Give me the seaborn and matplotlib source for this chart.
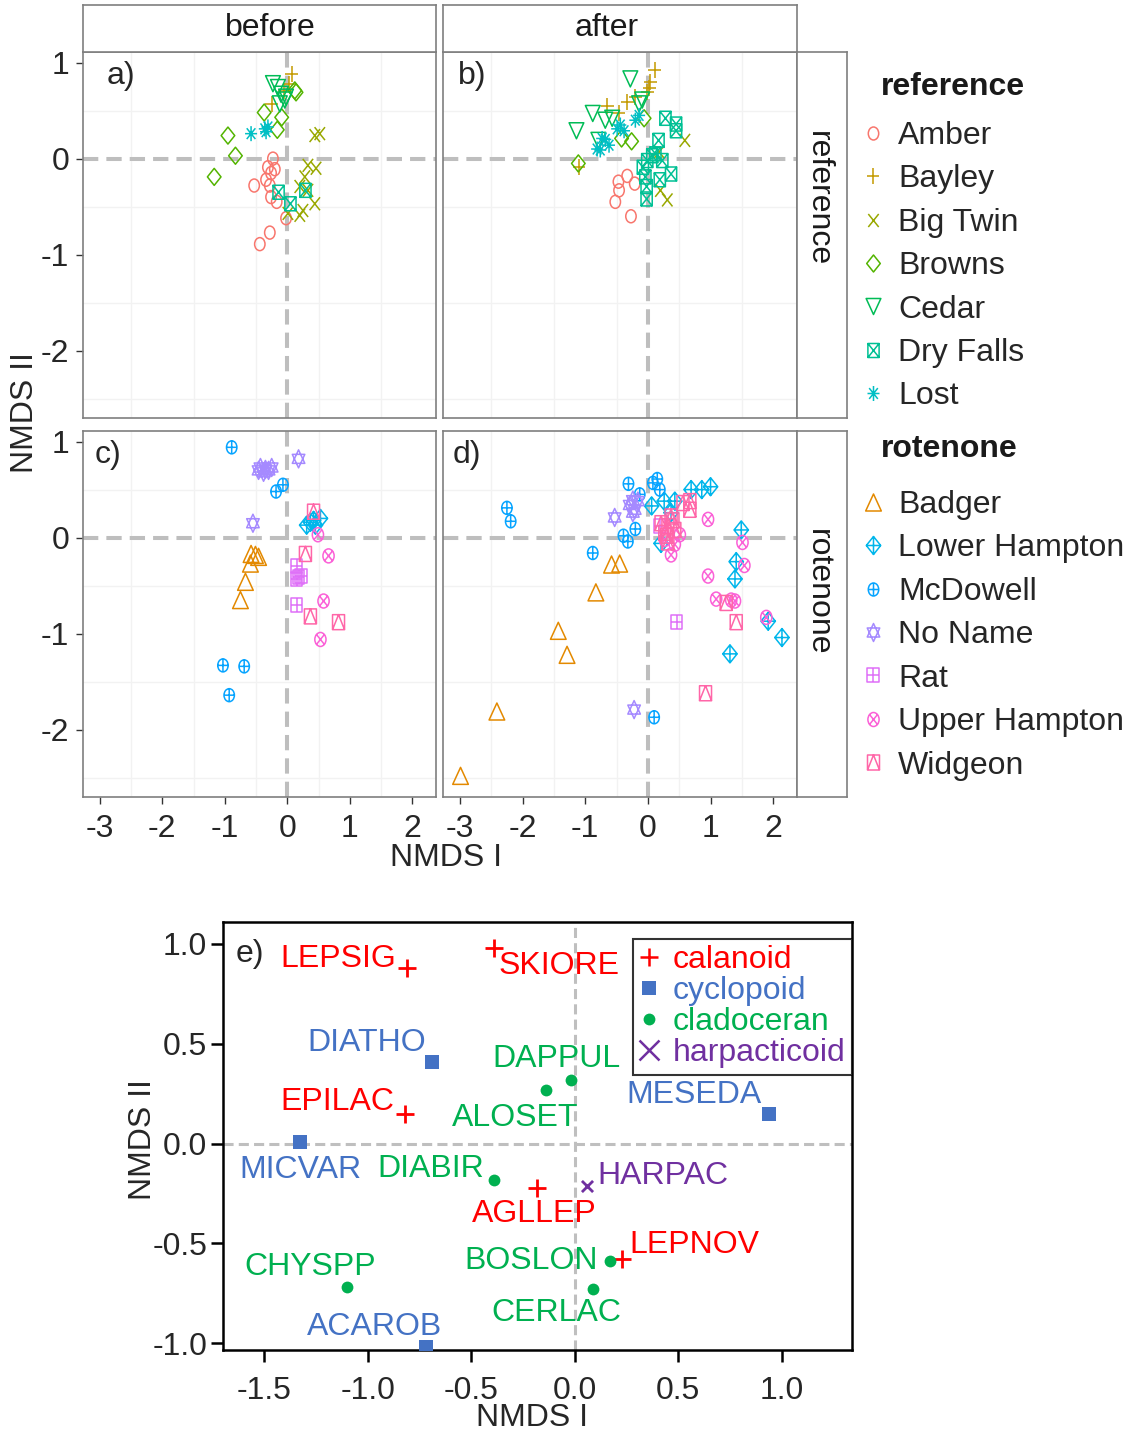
import numpy as np
import pandas as pd
import seaborn as sns
import matplotlib.pyplot as plt
from matplotlib.path import Path
from matplotlib.markers import MarkerStyle
from matplotlib.lines import Line2D
from matplotlib.transforms import Affine2D

# ---------------- data: NMDS site scores per lake ----------------
ref_lakes = ["Amber", "Bayley", "Big Twin", "Browns", "Cedar", "Dry Falls", "Lost"]
rot_lakes = ["Badger", "Lower Hampton", "McDowell", "No Name", "Rat", "Upper Hampton", "Widgeon"]

ref_before = {
    "Amber": [(-0.23, 0.00), (-0.31, -0.09), (-0.20, -0.11), (-0.26, -0.15), (-0.34, -0.22), (-0.53, -0.28),
              (-0.28, -0.28), (-0.26, -0.40), (-0.17, -0.45), (-0.02, -0.62), (-0.28, -0.77), (-0.44, -0.89)],
    "Bayley": [(0.07, 0.88), (0.03, 0.78), (-0.05, 0.70), (-0.25, 0.57)],
    "Big Twin": [(0.44, 0.24), (0.52, 0.26), (0.33, -0.07), (0.46, -0.10), (0.28, -0.19), (0.20, -0.29),
                 (0.33, -0.33), (0.44, -0.47), (0.25, -0.54), (0.20, -0.59), (0.01, -0.57)],
    "Browns": [(-0.95, 0.24), (-0.83, 0.03), (-1.17, -0.19), (-0.37, 0.48), (-0.09, 0.43), (-0.16, 0.30),
               (0.12, 0.71), (0.14, 0.69)],
    "Cedar": [(-0.23, 0.78), (-0.15, 0.74), (-0.10, 0.67), (-0.04, 0.61), (-0.12, 0.57), (-0.02, 0.64)],
    "Dry Falls": [(-0.14, -0.35), (0.29, -0.33), (0.05, -0.47)],
    "Lost": [(-0.58, 0.26), (-0.36, 0.31), (-0.31, 0.33), (-0.34, 0.28)],
}
ref_after = {
    "Amber": [(-0.33, -0.18), (-0.47, -0.24), (-0.46, -0.33), (-0.52, -0.45), (-0.21, -0.26), (-0.27, -0.60)],
    "Bayley": [(0.11, 0.92), (0.04, 0.80), (0.02, 0.74), (-0.01, 0.69), (-0.20, 0.64), (-0.33, 0.59),
               (-0.65, 0.55), (-0.46, 0.47), (-1.10, -0.09)],
    "Big Twin": [(0.59, 0.19), (0.31, -0.43), (0.20, -0.33), (0.18, 0.07)],
    "Browns": [(-1.11, -0.05), (-0.26, 0.18), (-0.42, 0.21), (-0.06, 0.42)],
    "Cedar": [(-0.28, 0.83), (-1.14, 0.29), (-0.88, 0.47), (-0.57, 0.42), (-0.68, 0.40), (-0.09, 0.61),
              (-0.14, 0.57), (-0.79, 0.19)],
    "Dry Falls": [(0.28, 0.42), (0.45, 0.36), (0.45, 0.29), (0.17, 0.19), (-0.01, -0.02), (0.07, 0.03),
                  (-0.08, -0.09), (-0.04, -0.19), (0.23, -0.02), (0.37, -0.16), (0.19, -0.22), (-0.02, -0.29),
                  (-0.02, -0.42), (0.12, 0.05)],
    "Lost": [(-0.81, 0.10), (-0.73, 0.21), (-0.62, 0.14), (-0.44, 0.35), (-0.38, 0.29), (-0.14, 0.45),
             (-0.20, 0.40), (-0.76, 0.09), (-0.68, 0.20), (-0.49, 0.31)],
}
rot_before = {
    "Badger": [(-0.58, -0.17), (-0.51, -0.18), (-0.46, -0.20), (-0.59, -0.27), (-0.67, -0.46), (-0.75, -0.65)],
    "Lower Hampton": [(0.31, 0.13), (0.42, 0.18), (0.53, 0.20), (0.45, 0.13), (0.37, 0.16)],
    "McDowell": [(-0.89, 0.94), (-0.18, 0.48), (-0.07, 0.55), (-1.03, -1.33), (-0.69, -1.34), (-0.93, -1.64)],
    "No Name": [(0.18, 0.82), (-0.43, 0.73), (-0.35, 0.71), (-0.30, 0.70), (-0.38, 0.68), (-0.46, 0.70),
                (-0.25, 0.73), (-0.55, 0.15)],
    "Rat": [(0.15, -0.30), (0.18, -0.41), (0.15, -0.43), (0.22, -0.40), (0.15, -0.70)],
    "Upper Hampton": [(0.49, 0.03), (0.66, -0.19), (0.58, -0.66), (0.53, -1.06)],
    "Widgeon": [(0.42, 0.27), (0.29, -0.17), (0.37, -0.82), (0.82, -0.88)],
}
rot_after = {
    "Badger": [(-2.99, -2.48), (-2.41, -1.81), (-1.43, -0.97), (-1.29, -1.22), (-0.83, -0.57), (-0.58, -0.28),
               (-0.45, -0.27)],
    "Lower Hampton": [(0.06, 0.33), (0.26, 0.38), (0.43, 0.38), (0.69, 0.50), (0.86, 0.50), (1.00, 0.53),
                      (1.49, 0.08), (1.41, -0.25), (1.39, -0.43), (1.31, -1.21), (1.92, -0.87), (2.14, -1.04),
                      (0.21, -0.06), (0.37, 0.26)],
    "McDowell": [(-2.25, 0.31), (-2.19, 0.17), (-0.31, 0.56), (0.08, 0.57), (0.15, 0.61), (0.19, 0.50),
                 (-0.13, 0.45), (-0.20, 0.09), (-0.39, 0.02), (-0.32, -0.04), (-0.88, -0.16), (0.10, -1.87)],
    "No Name": [(-0.53, 0.21), (-0.24, 0.39), (-0.16, 0.38), (-0.29, 0.34), (-0.21, 0.29), (-0.24, 0.26),
                (-0.22, -1.79)],
    "Rat": [(0.46, -0.88), (0.19, 0.12)],
    "Upper Hampton": [(0.96, 0.19), (1.51, -0.05), (1.54, -0.29), (0.96, -0.40), (1.09, -0.64), (1.33, -0.65),
                      (1.39, -0.66), (1.89, -0.83), (0.37, -0.18), (0.43, -0.07), (0.51, 0.03), (0.27, -0.02)],
    "Widgeon": [(0.56, 0.36), (0.67, 0.38), (0.67, 0.29), (0.21, 0.15), (0.32, 0.12), (0.37, 0.22), (0.43, 0.08),
                (0.27, 0.05), (0.32, -0.05), (0.30, 0.02), (0.40, 0.18), (1.25, -0.68), (1.41, -0.88),
                (0.92, -1.62)],
}

# species scores (panel e)
e_species = ["LEPSIG", "SKIORE", "DIATHO", "DAPPUL", "ALOSET", "EPILAC", "MESEDA", "MICVAR",
             "DIABIR", "AGLLEP", "HARPAC", "BOSLON", "LEPNOV", "CERLAC", "CHYSPP", "ACAROB"]
e_x = [-0.81, -0.39, -0.69, -0.02, -0.14, -0.82, 0.94, -1.33, -0.39, -0.18, 0.06, 0.17, 0.23, 0.09, -1.10, -0.72]
e_y = [0.88, 0.98, 0.41, 0.32, 0.27, 0.15, 0.15, 0.01, -0.18, -0.22, -0.21, -0.59, -0.58, -0.73, -0.72, -1.02]
e_group = ["calanoid", "calanoid", "cyclopoid", "cladoceran", "cladoceran", "calanoid", "cyclopoid", "cyclopoid",
           "cladoceran", "calanoid", "harpacticoid", "cladoceran", "calanoid", "cladoceran", "cladoceran", "cyclopoid"]
e_groups = ["calanoid", "cyclopoid", "cladoceran", "harpacticoid"]

# ---------------- style ----------------
W, H = 1138, 1435
FS = 23
sns.set_theme(style="ticks")
plt.rcParams["font.family"] = ["Liberation Sans", "DejaVu Sans"]
plt.rcParams["axes.unicode_minus"] = False


def hue_colour(h, c=100, l=65):
    # ggplot2 default hue palette colour (polar Luv -> sRGB)
    hr = np.deg2rad(h)
    u, v = c * np.cos(hr), c * np.sin(hr)
    Y = ((l + 16) / 116) ** 3
    xn, yn, zn = 0.95047, 1.0, 1.08883
    den = xn + 15 * yn + 3 * zn
    up, vp = u / (13 * l) + 4 * xn / den, v / (13 * l) + 9 * yn / den
    X = 9 * Y * up / (4 * vp)
    Z = Y * (12 - 3 * up - 20 * vp) / (4 * vp)
    M = np.array([[3.2404542, -1.5371385, -0.4985314],
                  [-0.9692660, 1.8760108, 0.0415560],
                  [0.0556434, -0.2040259, 1.0572252]])
    rgb = M @ np.array([X, Y, Z])
    rgb = np.where(rgb <= 0.0031308, 12.92 * rgb, 1.055 * np.abs(rgb) ** (1 / 2.4) - 0.055)
    return tuple(np.clip(rgb, 0, 1))


all_lakes = sorted(ref_lakes + rot_lakes)
lake_colour = {lk: hue_colour(15 + 360 * i / len(all_lakes)) for i, lk in enumerate(all_lakes)}


def poly(pts, closed=True):
    verts = list(pts) + ([pts[0]] if closed else [])
    codes = [Path.MOVETO] + [Path.LINETO] * (len(pts) - 1) + ([Path.CLOSEPOLY] if closed else [])
    return Path(verts, codes)


# R style pch 1..14 symbols
circ = Path.circle((0, 0), 1)
plus = [poly([(-1, 0), (1, 0)], False), poly([(0, -1), (0, 1)], False)]
cross = [poly([(-0.72, -0.72), (0.72, 0.72)], False), poly([(-0.72, 0.72), (0.72, -0.72)], False)]
big_cross = [poly([(-1, -1), (1, 1)], False), poly([(-1, 1), (1, -1)], False)]
square = poly([(-1, -1), (1, -1), (1, 1), (-1, 1)])
diamond = poly([(0, 1), (1, 0), (0, -1), (-1, 0)])
pch_parts = {
    1: [circ],
    2: [poly([(0, 1), (-1.15, -1), (1.15, -1)])],
    3: plus,
    4: big_cross,
    5: [diamond],
    6: [poly([(0, -1), (-1.15, 1), (1.15, 1)])],
    7: [square] + big_cross,
    8: plus + cross,
    9: [diamond] + plus,
    10: [circ] + plus,
    11: [poly([(0, 1), (-0.87, -0.5), (0.87, -0.5)]), poly([(0, -1), (-0.87, 0.5), (0.87, 0.5)])],
    12: [square] + plus,
    13: [circ] + cross,
    14: [square, poly([(-1, -1), (0, 1), (1, -1)], False)],
}
pch_px = {1: 13, 2: 17, 3: 16, 4: 13, 5: 17, 6: 16, 7: 14, 8: 15, 9: 18, 10: 13, 11: 18, 12: 14, 13: 14, 14: 15}
squash = Affine2D().scale(0.8, 1)
lake_path, lake_ms = {}, {}
for i, lk in enumerate(all_lakes):
    lake_path[lk] = squash.transform_path(Path.make_compound_path(*pch_parts[i + 1]))
    lake_ms[lk] = pch_px[i + 1] * 72 / 100

rows = []
for treat, period, d in [("reference", "before", ref_before), ("reference", "after", ref_after),
                         ("rotenone", "before", rot_before), ("rotenone", "after", rot_after)]:
    for lk, pts in d.items():
        for x, y in pts:
            rows.append((treat, period, lk, x, y))
sites = pd.DataFrame(rows, columns=["treatment", "period", "lake", "nmds1", "nmds2"])

fig = plt.figure(figsize=(W / 100, H / 100), dpi=100)


def add_ax(x0, y0, x1, y1):
    return fig.add_axes([x0 / W, 1 - y1 / H, (x1 - x0) / W, (y1 - y0) / H])


GREY = "#7F7F7F"
panels = [
    ("reference", "before", (83, 52, 436, 418), "a)", (0.068, 0.975), True, False),
    ("reference", "after", (443, 52, 797, 418), "b)", (0.042, 0.975), False, False),
    ("rotenone", "before", (83, 431, 436, 797), "c)", (0.034, 0.975), True, True),
    ("rotenone", "after", (443, 431, 797, 797), "d)", (0.028, 0.975), False, True),
]
for treat, period, box, tag, tagpos, show_y, show_x in panels:
    ax = add_ax(*box)
    ax.axhline(0, color="#BEBEBE", lw=2.9, dashes=(3.8, 2.0), zorder=1)
    ax.axvline(0, color="#BEBEBE", lw=2.9, dashes=(3.8, 2.0), zorder=1)
    sub = sites[(sites.treatment == treat) & (sites.period == period)]
    for lk in sub.lake.unique():
        sns.scatterplot(data=sub[sub.lake == lk], x="nmds1", y="nmds2", ax=ax, legend=False,
                        marker=MarkerStyle(lake_path[lk], fillstyle="none"), color=lake_colour[lk],
                        s=lake_ms[lk] ** 2, linewidth=1.1, zorder=3)
    ax.set_xlim(-3.27, 2.38)
    ax.set_ylim(-2.70, 1.11)
    ax.set_xlabel("")
    ax.set_ylabel("")
    ax.set_xticks([-3, -2, -1, 0, 1, 2])
    ax.set_yticks([-2, -1, 0, 1])
    ax.set_xticks([-2.5, -1.5, -0.5, 0.5, 1.5], minor=True)
    ax.set_yticks([-2.5, -1.5, -0.5, 0.5], minor=True)
    ax.grid(which="minor", color="#F2F2F2", lw=1.0, zorder=0)
    ax.tick_params(which="minor", length=0)
    ax.tick_params(which="major", length=5, width=1, color="#333333", labelsize=FS,
                   left=show_y, labelleft=show_y, bottom=show_x, labelbottom=show_x)
    ax.tick_params(axis="x", pad=7)
    ax.tick_params(axis="y", pad=5)
    for sp in ax.spines.values():
        sp.set_color(GREY)
        sp.set_linewidth(1.2)
    ax.text(tagpos[0], tagpos[1], tag, transform=ax.transAxes, ha="left", va="top", fontsize=FS)


def strip(box, label, rot, pos):
    sax = add_ax(*box)
    sax.set_xticks([])
    sax.set_yticks([])
    for sp in sax.spines.values():
        sp.set_color(GREY)
        sp.set_linewidth(1.2)
    sax.text(pos[0], pos[1], label, transform=sax.transAxes, ha="center", va="center",
             rotation=rot, fontsize=FS, color="#1A1A1A")


strip((83, 5, 436, 52), "before", 0, (0.53, 0.5))
strip((443, 5, 797, 52), "after", 0, (0.463, 0.5))
strip((797, 52, 847, 418), "reference", -90, (0.42, 0.60))
strip((797, 431, 847, 797), "rotenone", -90, (0.42, 0.56))

fig.text(25 / W, 1 - 413 / H, "NMDS II", rotation=90, ha="center", va="center", fontsize=FS)
fig.text(446 / W, 1 - 858 / H, "NMDS I", ha="center", va="center", fontsize=FS)

# legends for the lakes
for title, lakes, title_y, top in [("reference", ref_lakes, 87, 121), ("rotenone", rot_lakes, 449, 490)]:
    fig.text(881 / W, 1 - title_y / H, title, ha="left", va="center", fontsize=FS, weight="bold",
             color="#1A1A1A")
    handles = [Line2D([], [], ls="none", marker=lake_path[lk], markersize=lake_ms[lk],
                      markeredgecolor=lake_colour[lk], markerfacecolor="none", markeredgewidth=1.1)
               for lk in lakes]
    fig.legend(handles, lakes, loc="upper left", bbox_to_anchor=(860 / W, 1 - top / H),
               frameon=False, fontsize=FS, handlelength=0.8, handletextpad=0.39, labelspacing=0.42,
               borderpad=0, borderaxespad=0)

# ---------------- panel e: species scores ----------------
species = pd.DataFrame({"species": e_species, "nmds1": e_x, "nmds2": e_y, "group": e_group})
grp_colour = {"calanoid": "#FF0000", "cyclopoid": "#4472C4", "cladoceran": "#00B050", "harpacticoid": "#7030A0"}
grp_marker = {"calanoid": "+", "cyclopoid": "s", "cladoceran": "o", "harpacticoid": "x"}
grp_size = {"calanoid": 13, "cyclopoid": 10.5, "cladoceran": 8.5, "harpacticoid": 8}
label_pos = {
    "LEPSIG": (-11, 9, "right"), "SKIORE": (4, -18, "left"), "DIATHO": (-6, 19, "right"),
    "DAPPUL": (-14, 21, "center"), "ALOSET": (-31, -28, "center"), "EPILAC": (-11, 12, "right"),
    "MESEDA": (-8, 19, "right"), "MICVAR": (1, -28, "center"), "DIABIR": (-10, 11, "right"),
    "AGLLEP": (-3, -26, "center"), "HARPAC": (10, 10, "left"), "BOSLON": (-12, 0, "right"),
    "LEPNOV": (7, 14, "left"), "CERLAC": (-37, -24, "center"), "CHYSPP": (-37, 20, "center"),
    "ACAROB": (-51, 20, "center"),
}

ax_e = add_ax(223, 922, 852, 1350)
ax_e.axhline(0, color="#BFBFBF", lw=2.2, dashes=(3.3, 1.7), zorder=1)
ax_e.axvline(0, color="#BFBFBF", lw=2.2, dashes=(3.3, 1.7), zorder=1)
for g in e_groups:
    kw = dict(marker=grp_marker[g], color=grp_colour[g], s=grp_size[g] ** 2, legend=False, zorder=3)
    if grp_marker[g] in ("s", "o"):
        kw.update(edgecolor=grp_colour[g], linewidth=0)
    else:
        kw.update(linewidth=2.0)
    sns.scatterplot(data=species[species.group == g], x="nmds1", y="nmds2", ax=ax_e, **kw)
for name, x, y, g in zip(e_species, e_x, e_y, e_group):
    dx, dy, ha = label_pos[name]
    ax_e.annotate(name, (x, y), xytext=(dx, dy), textcoords="offset pixels", ha=ha, va="center",
                  color=grp_colour[g], fontsize=FS)

ax_e.set_xlim(-1.70, 1.34)
ax_e.set_ylim(-1.034, 1.11)
ax_e.set_xticks([-1.5, -1.0, -0.5, 0.0, 0.5, 1.0])
ax_e.set_yticks([-1.0, -0.5, 0.0, 0.5, 1.0])
ax_e.set_xlabel("")
ax_e.set_ylabel("")
ax_e.tick_params(length=8.5, width=1.8, color="black", labelsize=FS)
ax_e.tick_params(axis="x", pad=10)
ax_e.tick_params(axis="y", pad=3)
for sp in ax_e.spines.values():
    sp.set_visible(True)
    sp.set_color("black")
    sp.set_linewidth(1.8)
ax_e.text(0.02, 0.96, "e)", transform=ax_e.transAxes, ha="left", va="top", fontsize=FS)

e_handles = [Line2D([], [], ls="none", marker=grp_marker[g], color=grp_colour[g],
                    markersize={"calanoid": 13, "cyclopoid": 10, "cladoceran": 8.5, "harpacticoid": 14}[g],
                    markeredgewidth=1.8 if grp_marker[g] in ("+", "x") else 0)
             for g in e_groups]
leg = ax_e.legend(e_handles, e_groups, loc="upper right", bbox_to_anchor=(1.0, 1 - 17 / 428),
                  borderaxespad=0, frameon=True, fancybox=False, edgecolor="black", fontsize=FS,
                  labelcolor=[grp_colour[g] for g in e_groups], handlelength=0.6, handletextpad=0.45,
                  labelspacing=0.03, borderpad=0.2)
leg.get_frame().set_linewidth(1.5)

fig.text(143 / W, 1 - 1140 / H, "NMDS II", rotation=90, ha="center", va="center", fontsize=FS)
fig.text(532 / W, 1 - 1418 / H, "NMDS I", ha="center", va="center", fontsize=FS)

fig.savefig("out.png", dpi=100)
